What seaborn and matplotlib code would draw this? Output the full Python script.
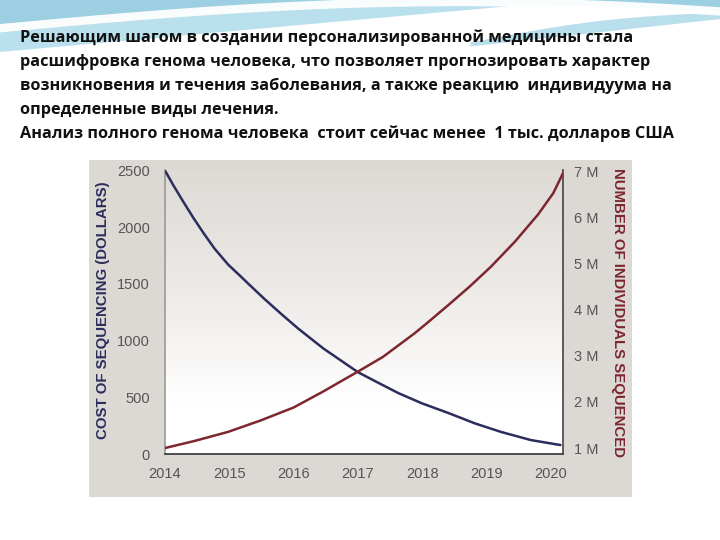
import numpy as np
import pandas as pd
import matplotlib
matplotlib.use("Agg")
import matplotlib.pyplot as plt
from matplotlib.colors import LinearSegmentedColormap
from matplotlib.patches import Rectangle
import seaborn as sns

# slide text
title_lines = [
    "Решающим шагом в создании персонализированной медицины стала",
    "расшифровка генома человека, что позволяет прогнозировать характер",
    "возникновения и течения заболевания, а также реакцию  индивидуума на",
    "определенные виды лечения.",
    "Анализ полного генома человека  стоит сейчас менее  1 тыс. долларов США",
]

# cost of sequencing (dollars)
cost_years = [2014.0, 2014.13, 2014.29, 2014.45, 2014.61, 2014.77, 2014.98, 2015.18,
              2015.29, 2015.54, 2015.8, 2016.07, 2016.46, 2016.73, 2017.0, 2017.29,
              2017.63, 2018.0, 2018.41, 2018.82, 2019.23, 2019.69, 2020.15]
cost_values = [2500, 2370, 2220, 2075, 1940, 1812, 1672, 1565,
               1505, 1371, 1239, 1107, 932, 827, 722, 636,
               537, 446, 361, 270, 194, 123, 79]

# number of individuals sequenced (millions)
people_years = [2014.0, 2014.45, 2014.98, 2015.49, 2016.0, 2016.45, 2017.0, 2017.39,
                2017.88, 2018.08, 2018.41, 2018.74, 2019.07, 2019.44, 2019.8, 2020.04,
                2020.2]
people_values = [1.0, 1.15, 1.35, 1.6, 1.88, 2.22, 2.66, 2.98,
                 3.49, 3.72, 4.11, 4.51, 4.94, 5.48, 6.07, 6.54,
                 7.0]

x_ticks = [2014, 2015, 2016, 2017, 2018, 2019, 2020]
left_ticks = [0, 500, 1000, 1500, 2000, 2500]
right_ticks = [1, 2, 3, 4, 5, 6, 7]
right_tick_labels = ["1 M", "2 M", "3 M", "4 M", "5 M", "6 M", "7 M"]

left_label = "COST OF SEQUENCING (DOLLARS)"
right_label = "NUMBER OF INDIVIDUALS SEQUENCED"

sns.set_theme(style="white")
plt.rcParams["font.family"] = ["Liberation Sans", "DejaVu Sans"]

blue = "#2b2d5c"
red = "#7d2630"
tick_grey = "#555555"

fig = plt.figure(figsize=(7.2, 5.4), dpi=100)
fig.patch.set_facecolor("white")

# background decoration: blue band at top and grey chart panel
bg = fig.add_axes([0, 0, 1, 1])
bg.set_xlim(0, 720)
bg.set_ylim(540, 0)
bg.axis("off")
xs = np.linspace(0, 720, 300)
# soft light-blue wash on the left
wash = np.clip(52 - 0.09 * xs, 0, None)
bg.fill_between(xs, 0, wash, color="#b9e0ec", lw=0)
# main blue band along the top
band = 24 - 20 * np.sin(np.pi * xs / 900)
bg.fill_between(xs, 0, band, color="#9ccfe2", lw=0)
# white swoosh
swoosh = 32 - 30 * np.sin(np.pi * (xs + 40) / 1000)
bg.plot(xs, swoosh, color="white", lw=6, alpha=0.95)
# teal swoosh on the right
rx = np.linspace(470, 720, 100)
bg.fill_between(rx, 42 - 0.12 * (rx - 470) - 6 * np.sin(np.pi * (rx - 470) / 250),
                46 - 0.11 * (rx - 470), color="#8ccbe0", lw=0, alpha=0.6)
bg.add_patch(Rectangle((89, 160), 543, 337, facecolor="#dcd9d5", edgecolor="none"))

for i, line in enumerate(title_lines):
    fig.text(20 / 720, 1 - (38 + 24 * i) / 540, line, fontsize=11.7,
             fontweight="bold", color="#111111", va="center", ha="left",
             family=["Open Sans", "DejaVu Sans"])

# main axes
ax = fig.add_axes([165 / 720, 1 - 454 / 540, (563 - 165) / 720, (454 - 170) / 540])
ax.set_facecolor("none")
grad = LinearSegmentedColormap.from_list(
    "panel", [(0, "#ffffff"), (0.18, "#ffffff"), (0.6, "#ece9e6"), (1, "#dedad6")])
ax.imshow(np.linspace(0, 1, 256).reshape(-1, 1), extent=[0, 1, 0, 1],
          transform=ax.transAxes, cmap=grad, aspect="auto", origin="lower", zorder=0)

cost_df = pd.DataFrame({"year": cost_years, "cost": cost_values})
people_df = pd.DataFrame({"year": people_years, "people": people_values})

sns.lineplot(data=cost_df, x="year", y="cost", ax=ax, color=blue, lw=1.8, zorder=3)
ax.set_xlim(2014, 2020.19)
ax.set_ylim(0, 2505)
ax.set_xticks(x_ticks)
ax.set_xticklabels([str(y) for y in x_ticks])
ax.set_yticks(left_ticks)
ax.set_yticklabels([str(v) for v in left_ticks])
ax.tick_params(axis="both", length=0, labelsize=10.5, colors=tick_grey)
ax.tick_params(axis="y", pad=11)
ax.tick_params(axis="x", pad=9)
ax.set_xlabel("")
ax.set_ylabel(left_label, fontsize=10.8, fontweight="bold", color=blue)
ax.yaxis.set_label_coords(-0.139, 0.507)
for side in ["top", "right"]:
    ax.spines[side].set_visible(False)
ax.spines["left"].set_color("#9a9a9a")
ax.spines["left"].set_linewidth(1.2)
ax.spines["bottom"].set_color("#333333")
ax.spines["bottom"].set_linewidth(1.2)

ax2 = ax.twinx()
sns.lineplot(data=people_df, x="year", y="people", ax=ax2, color=red, lw=1.8, zorder=3)
ax2.set_ylim(0.87, 7.04)
ax2.set_yticks(right_ticks)
ax2.set_yticklabels(right_tick_labels)
ax2.tick_params(axis="y", length=0, labelsize=10.5, colors=tick_grey, pad=8)
ax2.set_ylabel(right_label, fontsize=10.8, fontweight="bold", color=red, rotation=270)
ax2.yaxis.set_label_coords(1.155, 0.5)
ax2.spines["top"].set_visible(False)
ax2.spines["left"].set_visible(False)
ax2.spines["bottom"].set_visible(False)
ax2.spines["right"].set_color("#444444")
ax2.spines["right"].set_linewidth(1.2)

fig.savefig("out.png", dpi=100)
